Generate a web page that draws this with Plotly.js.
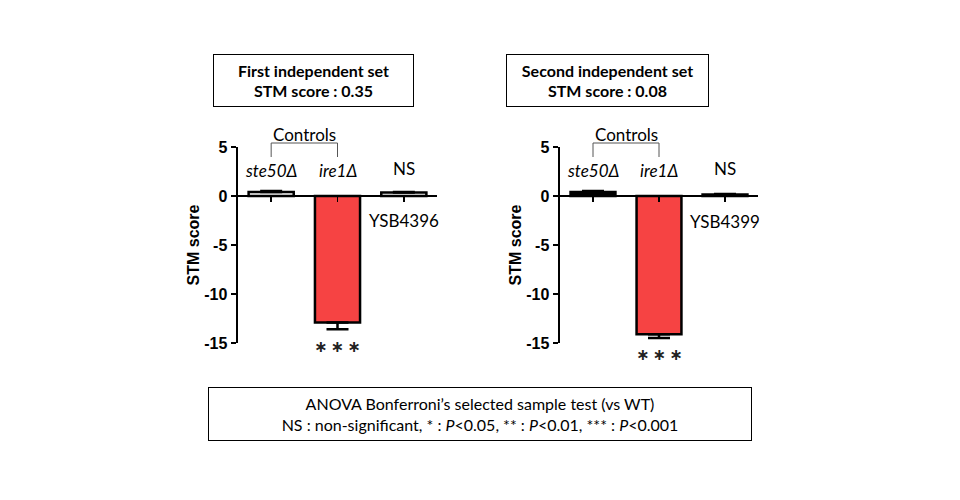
<!DOCTYPE html>
<html><head><meta charset="utf-8">
<script src="https://cdn.plot.ly/plotly-3.0.1.min.js"></script>
<style>html,body{margin:0;padding:0;background:#fff;}</style>
</head><body><div id="chart" style="width:960px;height:500px;"></div>
<script>
const categories1 = ['ste50Δ', 'ire1Δ', 'YSB4396'];
const categories2 = ['ste50Δ', 'ire1Δ', 'YSB4399'];
const values1 = [0.4, -12.9, 0.35];
const values2 = [0.4, -14.1, 0.15];
const errUp1 = [0.1, 0, 0.05];
const errDown1 = [0, 0.7, 0];
const errUp2 = [0.1, 0, 0.05];
const errDown2 = [0, 0.4, 0];
const barColors1 = ['#ffffff', '#F64343', '#ffffff'];
const barColors2 = ['#000000', '#F64343', '#ffffff'];
const yTicks = [5, 0, -5, -10, -15];
const setTitles = ['<b>First independent set</b><br><b>STM score : 0.35</b>', '<b>Second independent set</b><br><b>STM score : 0.08</b>'];
const footer = 'ANOVA Bonferroni\u2019s selected sample test (vs WT)<br>NS : non-significant, * : <i>P</i><0.05, ** : <i>P</i><0.01, *** : <i>P</i><0.001';

const bodyFont = 'Lato, "Open Sans", sans-serif';
const axFont = '"Liberation Sans", Arial, sans-serif';

function barTrace(cats, vals, up, down, colors, xa, ya) {
  return {
    type: 'bar', x: cats, y: vals, xaxis: xa, yaxis: ya, width: 0.68,
    marker: {color: colors, line: {color: '#000', width: 2.5}},
    error_y: {type: 'data', symmetric: false, array: up, arrayminus: down, color: '#000', thickness: 2.5, width: 11},
    hoverinfo: 'x+y', showlegend: false
  };
}

const data = [
  barTrace(categories1, values1, errUp1, errDown1, barColors1, 'x', 'y'),
  barTrace(categories2, values2, errUp2, errDown2, barColors2, 'x2', 'y2')
];

const yDom = [0.314, 0.706];
const zeroPos = yDom[0] + (0 - (-15)) / 20 * (yDom[1] - yDom[0]);

function xAxis(dom) {
  return {domain: dom, type: 'category', range: [-0.5, 2.5], anchor: 'free', position: zeroPos,
    showline: true, linecolor: '#000', linewidth: 2, ticks: 'outside', ticklen: 5, tickwidth: 1.5,
    tickcolor: '#000', showticklabels: false, showgrid: false, zeroline: false, fixedrange: true};
}
function yAxis(anchor) {
  return {domain: yDom, range: [-15, 5], anchor: anchor, tickvals: yTicks, ticktext: yTicks.map(String),
    ticks: 'outside', ticklen: 5, tickwidth: 2.5, tickcolor: '#000', showline: true, linecolor: '#000', linewidth: 2.5,
    showgrid: false, zeroline: false, tickfont: {family: axFont, size: 16, color: '#000', weight: 'bold'},
    title: {text: '<b>STM score</b>', font: {family: axFont, size: 16, color: '#000'}, standoff: 1}};
}

const annotations = [];
const shapes = [];
const py = px => 1 - px / 500;
function panelDecor(xa, cats, ysbPx, starPx) {
  const lab = (x, yPx, text, extra) => annotations.push(Object.assign({xref: xa, yref: 'paper', x: x, y: py(yPx),
    yanchor: 'middle', text: text, showarrow: false,
    font: {family: bodyFont, size: 17, color: '#000'}}, extra || {}));
  lab(0, 170, '<i>ste50Δ</i>');
  lab(1, 170, '<i>ire1Δ</i>');
  lab(2, 168, 'NS');
  lab(2, ysbPx, cats[2]);
  lab(1, starPx, '\u2217\u2009\u2217\u2009\u2217', {font: {family: '"DejaVu Sans", sans-serif', size: 16, color: '#222', weight: 'bold'}});
  lab(0.5, 134, 'Controls');
  const ln = {color: '#555', width: 1};
  shapes.push({type: 'line', xref: xa, yref: 'paper', x0: 0, x1: 0, y0: py(157), y1: py(143), line: ln});
  shapes.push({type: 'line', xref: xa, yref: 'paper', x0: 1, x1: 1, y0: py(157), y1: py(143), line: ln});
  shapes.push({type: 'line', xref: xa, yref: 'paper', x0: 0, x1: 1, y0: py(143), y1: py(143), line: ln});
}
panelDecor('x', categories1, 221, 346);
panelDecor('x2', categories2, 222, 354);

// boxes
const box = (cx, cy, w, h, text, size) => annotations.push({xref: 'paper', yref: 'paper', x: cx/960, y: py(cy),
  xanchor: 'center', yanchor: 'middle', text: text, showarrow: false, width: w, height: h, borderpad: 0,
  bordercolor: '#000', borderwidth: 1, font: {family: bodyFont, size: size, color: '#000'}, bgcolor: '#fff'});
box(313.5, 80.5, 199, 51, setTitles[0], 16);
box(607.5, 80.5, 201, 51, setTitles[1], 16);
box(480, 414, 542, 52, footer, 16);

const layout = {
  width: 960, height: 500, margin: {l: 0, r: 0, t: 0, b: 0},
  paper_bgcolor: '#fff', plot_bgcolor: 'rgba(0,0,0,0)', showlegend: false,
  xaxis: xAxis([238/960, 437/960]),
  yaxis: yAxis('x'),
  xaxis2: xAxis([560/960, 758/960]),
  yaxis2: yAxis('x2'),
  annotations: annotations, shapes: shapes
};

Plotly.newPlot('chart', data, layout, {displayModeBar: false, staticPlot: true});
</script></body></html>
